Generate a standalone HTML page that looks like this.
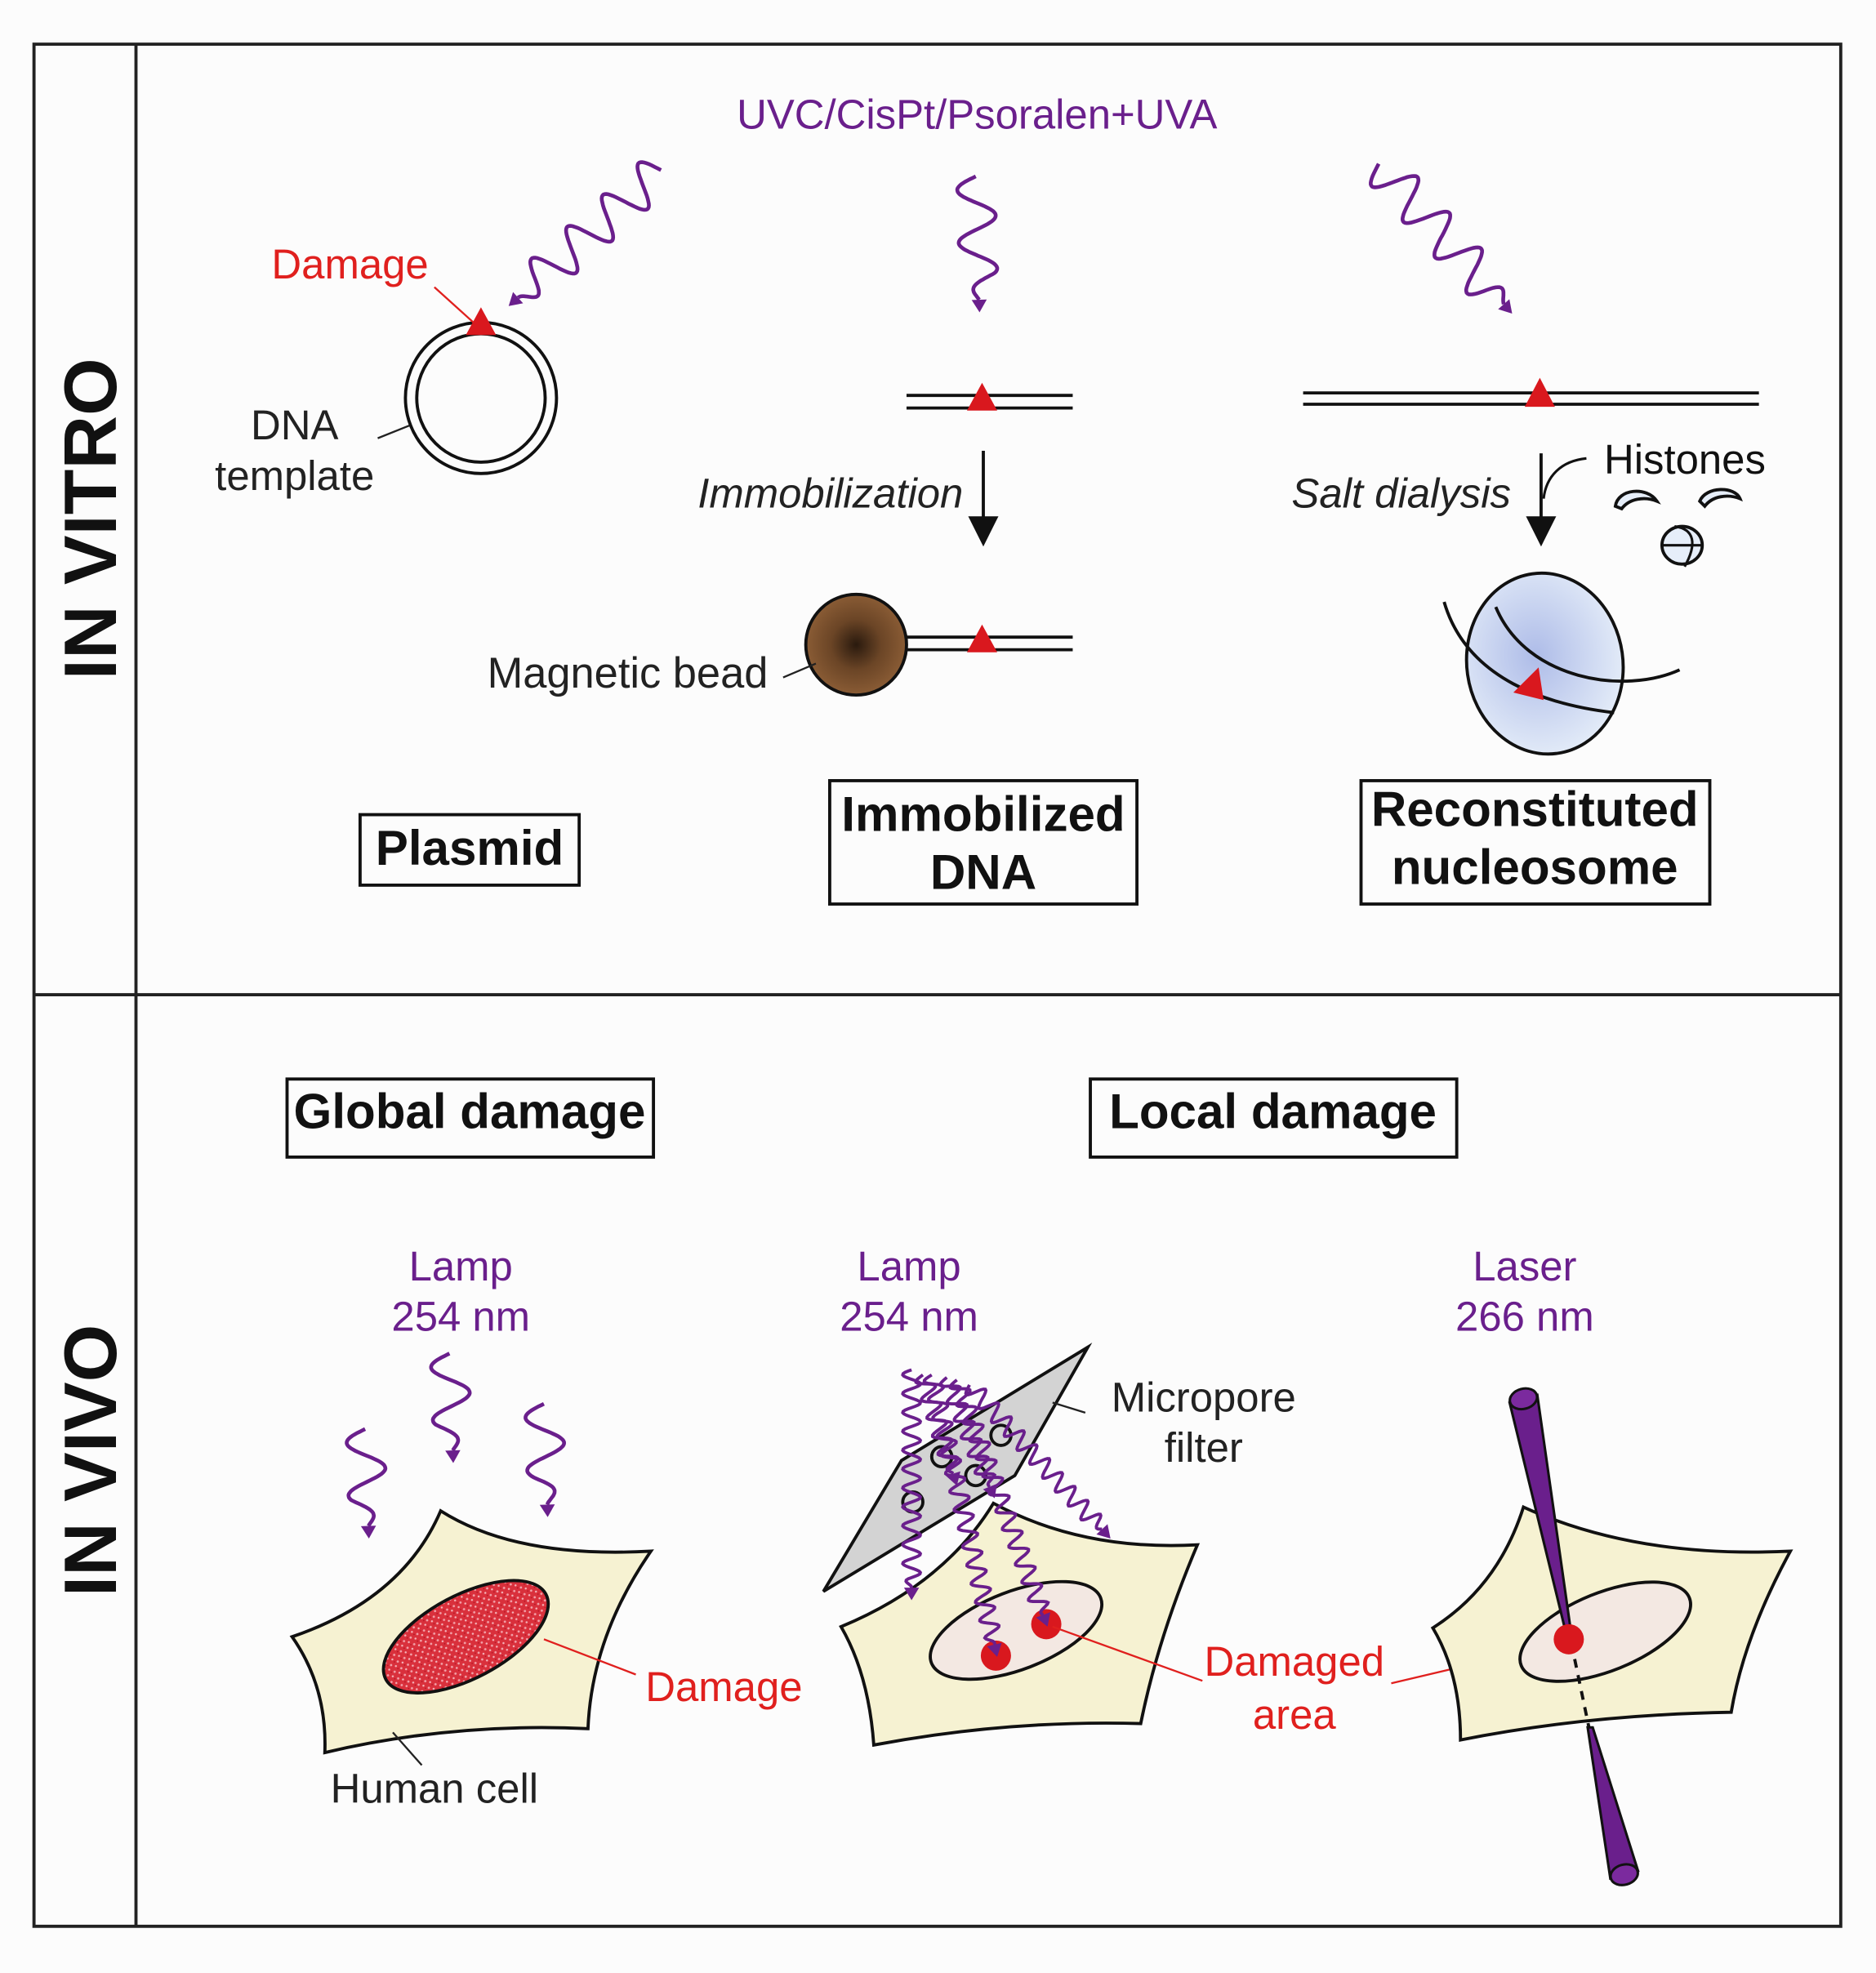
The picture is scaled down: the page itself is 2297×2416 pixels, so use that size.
<!DOCTYPE html>
<html><head><meta charset="utf-8">
<style>
html,body{margin:0;padding:0;background:#fcfcfc;}
svg{display:block;}
text{font-family:"Liberation Sans",sans-serif;}
</style></head>
<body>
<svg id="s" width="2297" height="2416" viewBox="0 0 1490 1567" xmlns="http://www.w3.org/2000/svg">
<defs>
<radialGradient id="bead" cx="0.5" cy="0.5" r="0.5">
<stop offset="0" stop-color="#2a1a0e"/><stop offset="0.5" stop-color="#6b4526"/><stop offset="1" stop-color="#8a5c35"/>
</radialGradient>
<radialGradient id="nuc" cx="0.45" cy="0.45" r="0.6">
<stop offset="0" stop-color="#aebce8"/><stop offset="1" stop-color="#e6eef9"/>
</radialGradient>
<pattern id="speck" width="6" height="6" patternUnits="userSpaceOnUse">
<rect width="6" height="6" fill="#d9303c"/>
<circle cx="1" cy="2" r="0.9" fill="#f2a0a8"/><circle cx="4" cy="4.5" r="0.8" fill="#f5b5bb"/><circle cx="4.5" cy="1" r="0.5" fill="#b01020"/>
</pattern>
</defs>
<rect x="0" y="0" width="1490" height="1567" fill="#fcfcfc"/>
<rect x="27" y="35" width="1435" height="1495" fill="none" stroke="#222" stroke-width="2.5"/>
<line x1="108" y1="35" x2="108" y2="1530" stroke="#222" stroke-width="2.5"/>
<line x1="27" y1="790" x2="1462" y2="790" stroke="#222" stroke-width="2.5"/>
<text transform="translate(92,412) rotate(-90)" font-size="59" font-weight="bold" text-anchor="middle" fill="#111">IN VITRO</text>
<text transform="translate(92,1160) rotate(-90)" font-size="59" font-weight="bold" text-anchor="middle" fill="#111">IN VIVO</text>

<text x="776" y="102" font-size="33" fill="#6a1f8c" text-anchor="middle">UVC/CisPt/Psoralen+UVA</text>

<circle cx="382" cy="316" r="60" fill="none" stroke="#111" stroke-width="2.5"/>
<circle cx="382" cy="316" r="51" fill="none" stroke="#111" stroke-width="2.5"/>
<polygon points="382,244 370,266 394,266" fill="#d9181e"/>
<text x="278" y="221" font-size="33" fill="#e0201e" text-anchor="middle">Damage</text>
<line x1="345" y1="228" x2="376" y2="256" stroke="#e0201e" stroke-width="1.5"/>
<text x="234" y="349" font-size="33" fill="#222" text-anchor="middle">DNA</text>
<text x="234" y="389" font-size="33" fill="#222" text-anchor="middle">template</text>
<line x1="300" y1="348" x2="325" y2="338" stroke="#222" stroke-width="1.5"/>

<line x1="720" y1="314" x2="852" y2="314" stroke="#111" stroke-width="2.5"/>
<line x1="720" y1="324" x2="852" y2="324" stroke="#111" stroke-width="2.5"/>
<polygon points="780,304 768,326 792,326" fill="#d9181e"/>
<line x1="781" y1="358" x2="781" y2="414" stroke="#111" stroke-width="2.5"/>
<polygon points="769,410 793,410 781,434" fill="#111"/>
<text x="765" y="403" font-size="33" font-style="italic" fill="#222" text-anchor="end">Immobilization</text>
<circle cx="680" cy="512" r="40" fill="url(#bead)" stroke="#111" stroke-width="2.5"/>
<line x1="720" y1="506" x2="852" y2="506" stroke="#111" stroke-width="2.5"/>
<line x1="720" y1="516" x2="852" y2="516" stroke="#111" stroke-width="2.5"/>
<polygon points="780,496 768,518 792,518" fill="#d9181e"/>
<text x="610" y="546" font-size="34" fill="#222" text-anchor="end">Magnetic bead</text>
<line x1="622" y1="538" x2="648" y2="527" stroke="#222" stroke-width="1.5"/>

<line x1="1035" y1="312" x2="1397" y2="312" stroke="#111" stroke-width="2.5"/>
<line x1="1035" y1="321" x2="1397" y2="321" stroke="#111" stroke-width="2.5"/>
<polygon points="1223,300 1211,323 1235,323" fill="#d9181e"/>
<line x1="1224" y1="360" x2="1224" y2="414" stroke="#111" stroke-width="2.5"/>
<polygon points="1212,410 1236,410 1224,434" fill="#111"/>
<path d="M1260,364 C1240,366 1228,378 1226,396" fill="none" stroke="#111" stroke-width="2"/>
<text x="1200" y="403" font-size="33" font-style="italic" fill="#222" text-anchor="end">Salt dialysis</text>
<text x="1274" y="376" font-size="33" fill="#111">Histones</text>
<path d="M1283,402 C1285,388 1308,386 1316,398 C1306,394 1294,396 1288,404 Z" fill="#e6eef9" stroke="#111" stroke-width="2.5"/>
<path d="M1350,398 C1355,386 1378,386 1382,396 C1372,392 1360,394 1354,402 Z" fill="#e6eef9" stroke="#111" stroke-width="2.5"/>
<ellipse cx="1336" cy="433" rx="16" ry="15" fill="#e6eef9" stroke="#111" stroke-width="2.5"/>
<line x1="1321" y1="433" x2="1351" y2="433" stroke="#111" stroke-width="2"/>
<path d="M1330,418 C1346,420 1348,432 1338,450" fill="none" stroke="#111" stroke-width="2"/>
<ellipse cx="1227" cy="527" rx="62" ry="72" transform="rotate(-8 1227 527)" fill="url(#nuc)" stroke="#111" stroke-width="2.5"/>
<path d="M1147,478 C1165,540 1230,560 1282,566" fill="none" stroke="#111" stroke-width="2.5"/>
<path d="M1188,482 C1212,540 1290,552 1334,532" fill="none" stroke="#111" stroke-width="2.5"/>
<polygon points="1222,530 1202,550 1226,556" fill="#d9181e"/>

<rect x="286" y="647" width="174" height="56" fill="none" stroke="#111" stroke-width="2.5"/>
<text x="373" y="687" font-size="39" font-weight="bold" text-anchor="middle" fill="#111">Plasmid</text>
<rect x="659" y="620" width="244" height="98" fill="none" stroke="#111" stroke-width="2.5"/>
<text x="781" y="660" font-size="39" font-weight="bold" text-anchor="middle" fill="#111">Immobilized</text>
<text x="781" y="706" font-size="39" font-weight="bold" text-anchor="middle" fill="#111">DNA</text>
<rect x="1081" y="620" width="277" height="98" fill="none" stroke="#111" stroke-width="2.5"/>
<text x="1219" y="656" font-size="39" font-weight="bold" text-anchor="middle" fill="#111">Reconstituted</text>
<text x="1219" y="702" font-size="39" font-weight="bold" text-anchor="middle" fill="#111">nucleosome</text>
<rect x="228" y="857" width="291" height="62" fill="none" stroke="#111" stroke-width="2.5"/>
<text x="373" y="896" font-size="39" font-weight="bold" text-anchor="middle" fill="#111">Global damage</text>
<rect x="866" y="857" width="291" height="62" fill="none" stroke="#111" stroke-width="2.5"/>
<text x="1011" y="896" font-size="39" font-weight="bold" text-anchor="middle" fill="#111">Local damage</text>

<text x="366" y="1017" font-size="33" fill="#6a1f8c" text-anchor="middle">Lamp</text>
<text x="366" y="1057" font-size="33" fill="#6a1f8c" text-anchor="middle">254 nm</text>
<text x="722" y="1017" font-size="33" fill="#6a1f8c" text-anchor="middle">Lamp</text>
<text x="722" y="1057" font-size="33" fill="#6a1f8c" text-anchor="middle">254 nm</text>
<text x="1211" y="1017" font-size="33" fill="#6a1f8c" text-anchor="middle">Laser</text>
<text x="1211" y="1057" font-size="33" fill="#6a1f8c" text-anchor="middle">266 nm</text>

<path d="M350,1200 Q410,1238 517,1232 Q470,1300 467,1373 Q360,1368 258,1392 Q260,1340 232,1300 Q320,1270 350,1200 Z" fill="#f6f2d2" stroke="#111" stroke-width="2.5"/>
<ellipse cx="370" cy="1300" rx="72" ry="33" transform="rotate(-28 370 1300)" fill="url(#speck)" stroke="#111" stroke-width="2.5"/>
<line x1="432" y1="1302" x2="505" y2="1330" stroke="#e0201e" stroke-width="1.5"/>
<text x="575" y="1351" font-size="33" fill="#e0201e" text-anchor="middle">Damage</text>
<line x1="335" y1="1402" x2="312" y2="1376" stroke="#222" stroke-width="1.5"/>
<text x="345" y="1432" font-size="33" fill="#222" text-anchor="middle">Human cell</text>

<path d="M789,1194 Q860,1232 951,1227 Q920,1300 906,1369 Q800,1366 694,1386 Q690,1330 668,1292 Q750,1258 789,1194 Z" fill="#f6f2d2" stroke="#111" stroke-width="2.5"/>
<ellipse cx="807" cy="1295" rx="72" ry="31" transform="rotate(-21 807 1295)" fill="#f3e8e2" stroke="#111" stroke-width="2.5"/>
<circle cx="791" cy="1315" r="12" fill="#d9181e"/>
<circle cx="831" cy="1290" r="12" fill="#d9181e"/>
<polygon points="864,1070 716,1160 654,1264 806,1172" fill="#d3d3d3" stroke="#111" stroke-width="2.5"/>
<circle cx="795" cy="1140" r="8" fill="none" stroke="#111" stroke-width="2.5"/>
<circle cx="748" cy="1157" r="8" fill="none" stroke="#111" stroke-width="2.5"/>
<circle cx="775" cy="1172" r="8" fill="none" stroke="#111" stroke-width="2.5"/>
<circle cx="725" cy="1193" r="8" fill="none" stroke="#111" stroke-width="2.5"/>
<line x1="836" y1="1114" x2="862" y2="1122" stroke="#222" stroke-width="1.5"/>
<text x="956" y="1121" font-size="33" fill="#222" text-anchor="middle">Micropore</text>
<text x="956" y="1161" font-size="33" fill="#222" text-anchor="middle">filter</text>
<line x1="836" y1="1292" x2="955" y2="1335" stroke="#e0201e" stroke-width="1.5"/>
<line x1="1105" y1="1337" x2="1240" y2="1305" stroke="#e0201e" stroke-width="1.5"/>
<text x="1028" y="1331" font-size="33" fill="#e0201e" text-anchor="middle">Damaged</text>
<text x="1028" y="1373" font-size="33" fill="#e0201e" text-anchor="middle">area</text>

<path d="M1210,1197 Q1300,1238 1422,1232 Q1385,1300 1375,1360 Q1260,1362 1160,1382 Q1160,1330 1138,1293 Q1190,1260 1210,1197 Z" fill="#f6f2d2" stroke="#111" stroke-width="2.5"/>
<ellipse cx="1275" cy="1296" rx="72" ry="31" transform="rotate(-22 1275 1296)" fill="#f3e8e2" stroke="#111" stroke-width="2.5"/>
<polygon points="1199,1114 1221,1108 1248,1298 1244,1298" fill="#6a1f8c" stroke="#111" stroke-width="2"/>
<ellipse cx="1210" cy="1111" rx="11" ry="8" transform="rotate(-15 1210 1111)" fill="#7b2a9e" stroke="#111" stroke-width="2"/>
<line x1="1248" y1="1305" x2="1262" y2="1372" stroke="#111" stroke-width="2.5" stroke-dasharray="7,6"/>
<polygon points="1261,1372 1265,1372 1301,1486 1279,1492" fill="#6a1f8c" stroke="#111" stroke-width="2"/>
<ellipse cx="1290" cy="1489" rx="11" ry="8" transform="rotate(-15 1290 1489)" fill="#7b2a9e" stroke="#111" stroke-width="2"/>
<circle cx="1246" cy="1302" r="12" fill="#d9181e"/>

<g id="waves" fill="none" stroke="#6a1f8c" stroke-width="3"></g>
<g id="heads" fill="#6a1f8c"></g>
</svg>
<script>
(function(){
var W=document.getElementById('waves'),H=document.getElementById('heads');
var NS='http://www.w3.org/2000/svg';
function wave(x1,y1,x2,y2,amp,wl,sw){
  var dx=x2-x1,dy=y2-y1,L=Math.sqrt(dx*dx+dy*dy),ux=dx/L,uy=dy/L,px=-uy,py=ux;
  var hl=10, Lw=L-hl, d='';
  for(var t=0;t<=Lw;t+=1){
    var a=amp*Math.sin(2*Math.PI*t/wl)*Math.min(1,(Lw-t)/(wl*0.5));
    var x=x1+ux*t+px*a,y=y1+uy*t+py*a;
    d+=(t==0?'M':'L')+x.toFixed(1)+','+y.toFixed(1);
  }
  var ex=x1+ux*Lw,ey=y1+uy*Lw; d+='L'+ex.toFixed(1)+','+ey.toFixed(1);
  var p=document.createElementNS(NS,'path');p.setAttribute('d',d);
  if(sw)p.setAttribute('stroke-width',sw);W.appendChild(p);
  var hw=6, pts=[x2,y2, ex+px*hw,ey+py*hw, ex-px*hw,ey-py*hw];
  var g=document.createElementNS(NS,'polygon');g.setAttribute('points',pts.join(','));H.appendChild(g);
}
wave(525,135,404,243,16,38);
wave(775,140,778,248,15,42);
wave(1095,130,1201,249,16,38);
wave(290,1135,293,1222,15,42);
wave(357,1075,360,1162,15,42);
wave(432,1115,435,1205,15,42);
wave(724,1088,724,1271,7,15,2.5);
wave(733,1092,760,1180,7,15,2.5);
wave(740,1092,792,1316,7,15,2.5);
wave(752,1094,790,1190,7,15,2.5);
wave(760,1096,832,1292,7,15,2.5);
wave(770,1100,882,1222,7,15,2.5);
})();
</script>
</body></html>
